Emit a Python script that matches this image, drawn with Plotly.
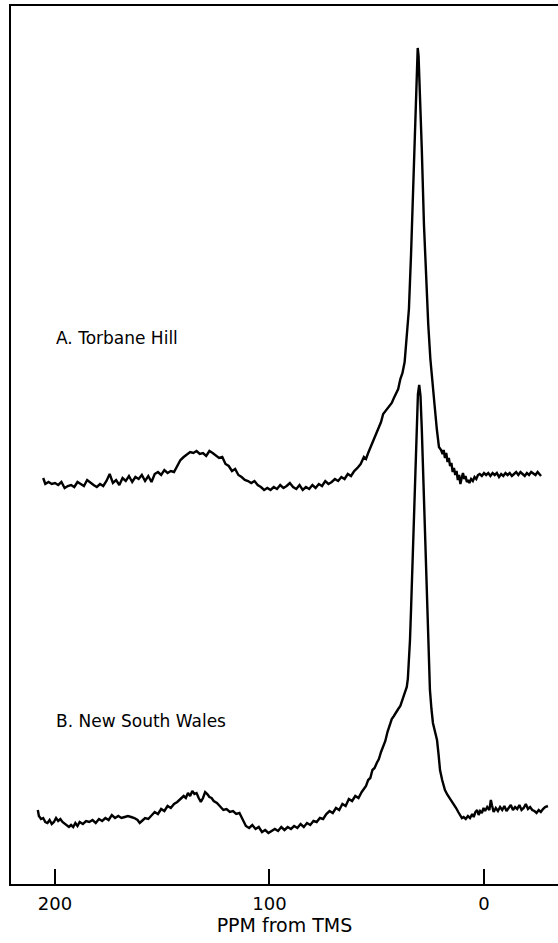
import plotly.graph_objects as go

# 13C NMR spectra of two torbanites (chemical shift in ppm from TMS)
torbane_ppm = [
    205.5, 204.5, 203.0, 201.5, 200.0, 198.5, 197.0, 195.5, 194.0, 192.5,
    191.0, 189.5, 188.0, 186.5, 185.0, 183.5, 182.0, 180.5, 179.0, 177.5,
    176.0, 174.5, 173.0, 171.5, 170.0, 168.5, 167.0, 165.5, 164.0, 162.5,
    161.0, 159.5, 158.0, 156.5, 155.0, 153.5, 152.0, 150.5, 149.0, 147.5,
    146.0, 144.5, 143.0, 141.5, 140.0, 138.5, 137.0, 135.5, 134.0, 132.5,
    131.0, 129.5, 128.0, 126.5, 125.0, 123.5, 122.0, 120.5, 119.0, 117.5,
    116.0, 114.5, 113.0, 111.5, 110.0, 108.5, 107.0, 105.5, 104.0, 102.5,
    101.0, 99.5, 98.0, 96.5, 95.0, 93.5, 92.0, 90.5, 89.0, 87.5,
    86.0, 84.5, 83.0, 81.5, 80.0, 78.5, 77.0, 75.5, 74.0, 72.5,
    71.0, 69.5, 68.0, 66.5, 65.0, 63.5, 62.0, 60.5, 59.0, 57.5,
    56.0, 55.0, 54.0, 53.0, 52.0, 51.0, 50.0, 49.0, 48.0, 47.0,
    46.0, 45.0, 44.0, 43.0, 42.0, 41.0, 40.0, 39.0, 38.0, 37.0,
    36.0, 35.0, 34.0, 33.0, 32.0, 31.3, 30.9, 30.5, 30.0, 29.0,
    28.0, 27.0, 26.0, 25.0, 24.0, 23.0, 22.0, 21.0, 20.0, 19.3,
    18.8, 18.2, 17.6, 17.0, 16.4, 15.8, 15.2, 14.6, 14.0, 13.4,
    12.8, 12.2, 11.6, 11.0, 10.4, 9.8, 9.2, 8.6, 8.0, 7.4,
    6.8, 6.0, 5.2, 4.4, 3.6, 2.8, 2.0, 1.0, 0.0, -1.0,
    -2.0, -3.0, -4.0, -5.0, -6.0, -7.0, -8.0, -9.0, -10.0, -11.0,
    -12.0, -13.0, -14.0, -15.0, -16.0, -17.0, -18.0, -19.0, -20.0, -21.0,
    -22.0, -23.0, -24.0, -25.0, -26.0, -26.6,
]
torbane_signal = [
    406, 400, 402, 400, 401, 399, 402, 396, 398, 399,
    397, 402, 400, 398, 404, 401, 399, 397, 400, 398,
    403, 410, 401, 404, 399, 406, 403, 408, 402, 407,
    405, 409, 403, 408, 402, 410, 412, 409, 414, 411,
    413, 412, 418, 424, 427, 430, 432, 431, 433, 430,
    431, 428, 433, 431, 428, 426, 427, 420, 418, 413,
    415, 409, 407, 404, 403, 401, 403, 399, 397, 394,
    396, 394, 397, 395, 399, 396, 398, 401, 397, 395,
    399, 394, 397, 395, 399, 396, 400, 398, 403, 400,
    402, 405, 403, 407, 405, 410, 408, 413, 416, 420,
    427, 425, 431, 436, 441, 446, 452, 456, 462, 470,
    473, 476, 478, 481, 486, 490, 495, 505, 511, 522,
    545, 575, 630, 700, 780, 825, 836, 828, 800, 735,
    660, 605, 560, 525, 497, 478, 455, 437, 434, 430,
    434, 426, 431, 422, 426, 418, 421, 412, 416, 409,
    413, 404, 409, 400, 406, 411, 405, 408, 402, 404,
    401, 405, 403, 407, 405, 409, 410, 408, 411, 409,
    411, 408, 411, 409, 411, 407, 410, 408, 411, 409,
    411, 408, 410, 412, 409, 412, 410, 408, 411, 409,
    412, 410, 409, 412, 410, 408,
]

nsw_ppm = [
    208.0, 207.5, 206.5, 205.5, 204.5, 203.5, 202.5, 201.5, 200.5, 199.5,
    198.5, 197.5, 196.5, 195.5, 194.5, 193.5, 192.5, 191.5, 190.5, 189.5,
    188.5, 187.0, 185.5, 184.0, 182.5, 181.0, 179.5, 178.0, 176.5, 175.0,
    173.5, 172.0, 170.5, 169.0, 167.5, 166.0, 164.5, 163.0, 161.5, 160.5,
    159.5, 158.0, 156.5, 155.0, 153.5, 152.0, 150.5, 149.0, 147.5, 146.0,
    144.5, 143.0, 141.5, 140.0, 139.0, 138.0, 137.0, 136.0, 135.0, 134.0,
    133.0, 132.0, 131.0, 130.0, 129.0, 128.0, 127.0, 126.0, 124.5, 123.0,
    121.5, 120.0, 118.5, 117.0, 115.5, 114.0, 112.5, 111.0, 109.5, 108.0,
    106.5, 105.0, 103.5, 102.0, 100.5, 99.0, 97.5, 96.0, 94.5, 93.0,
    91.5, 90.0, 88.5, 87.0, 85.5, 84.0, 82.5, 81.0, 79.5, 78.0,
    76.5, 75.0, 73.5, 72.0, 70.5, 69.0, 67.5, 66.0, 64.5, 63.0,
    61.5, 60.0, 58.5, 57.0, 56.0, 55.0, 54.0, 53.0, 52.0, 51.0,
    50.0, 49.0, 48.0, 47.0, 46.0, 45.0, 44.0, 43.0, 42.0, 41.0,
    40.0, 39.0, 38.0, 37.0, 36.0, 35.5, 35.0, 34.5, 34.0, 33.5,
    33.0, 32.2, 31.5, 30.8, 30.2, 29.6, 29.0, 28.4, 27.5, 26.6,
    26.0, 25.2, 24.5, 23.8, 22.8, 21.9, 21.2, 20.5, 19.5, 18.2,
    17.0, 16.0, 14.5, 13.0, 12.0, 11.0, 10.3, 9.5, 8.5, 7.5,
    6.5, 5.5, 4.8, 4.0, 3.2, 2.5, 1.8, 1.0, 0.2, -0.5,
    -1.5, -2.5, -3.2, -3.8, -4.5, -5.5, -6.5, -7.5, -8.5, -9.5,
    -10.5, -11.5, -12.5, -13.5, -14.5, -15.5, -16.5, -17.5, -18.5, -19.5,
    -20.5, -21.5, -22.5, -23.5, -24.5, -25.5, -26.5, -27.5, -28.5, -29.8,
]
nsw_signal = [
    74, 68, 65, 66, 62, 61, 64, 60, 62, 66,
    63, 65, 62, 60, 58, 57, 59, 57, 61, 58,
    62, 60, 63, 62, 64, 61, 65, 63, 66, 64,
    69, 66, 68, 66, 67, 68, 67, 66, 64, 61,
    63, 66, 65, 69, 72, 70, 75, 73, 78, 76,
    80, 82, 85, 88, 86, 91, 88, 93, 90, 91,
    86, 82, 86, 92, 90, 87, 86, 83, 81, 78,
    74, 75, 72, 73, 70, 71, 64, 58, 56, 59,
    55, 57, 52, 54, 51, 53, 55, 53, 57, 54,
    57, 55, 58, 56, 60, 57, 61, 59, 63, 62,
    66, 65, 70, 73, 71, 76, 74, 80, 78, 85,
    83, 88, 86, 92, 95, 98, 104, 106, 114, 116,
    121, 125, 132, 137, 143, 152, 158, 165, 168, 172,
    175, 178, 185, 190, 197, 205, 222, 244, 275, 312,
    350, 411, 455, 490, 499, 488, 455, 411, 345, 277,
    235, 194, 175, 161, 152, 144, 130, 114, 104, 94,
    89, 86, 81, 76, 72, 69, 66, 67, 65, 68,
    66, 70, 67, 72, 74, 69, 73, 71, 76, 73,
    77, 74, 84, 78, 72, 76, 73, 77, 74, 78,
    73, 76, 79, 74, 77, 75, 79, 74, 76, 80,
    75, 77, 74, 73, 71, 74, 72, 75, 77, 78,
]

tick_values = [200, 100, 0]
tick_labels = ["200", "100", "0"]

fig = go.Figure()
for xs, ys in ((torbane_ppm, torbane_signal), (nsw_ppm, nsw_signal)):
    fig.add_trace(go.Scatter(
        x=xs, y=ys, mode="lines",
        line=dict(color="black", width=2.4),
        hoverinfo="skip", showlegend=False,
    ))

label_font = dict(family="DejaVu Sans", size=17, color="black")
fig.add_annotation(x=200.5, y=546, xref="x", yref="y", text="A. Torbane Hill",
                   showarrow=False, xanchor="left", yanchor="middle", font=label_font)
fig.add_annotation(x=200.5, y=163, xref="x", yref="y", text="B. New South Wales",
                   showarrow=False, xanchor="left", yanchor="middle", font=label_font)

fig.update_layout(
    width=558, height=943,
    margin=dict(l=11, r=0, t=6, b=59),
    paper_bgcolor="white", plot_bgcolor="white",
    font=dict(family="DejaVu Sans", color="black"),
)
fig.update_xaxes(
    range=[220.5, -34.5],
    tickvals=tick_values, ticktext=tick_labels,
    ticks="inside", ticklen=15, tickwidth=2, tickcolor="black",
    tickfont=dict(size=18, family="DejaVu Sans"),
    ticklabelstandoff=2,
    showline=True, linewidth=2, linecolor="black", mirror=True,
    showgrid=False, zeroline=False,
    title=dict(text="PPM from TMS", font=dict(size=19, family="DejaVu Sans"), standoff=6),
)
fig.update_yaxes(
    range=[0, 878],
    showticklabels=False, ticks="",
    showline=True, linewidth=2, linecolor="black",
    showgrid=False, zeroline=False,
)

fig.write_html("out.html")
